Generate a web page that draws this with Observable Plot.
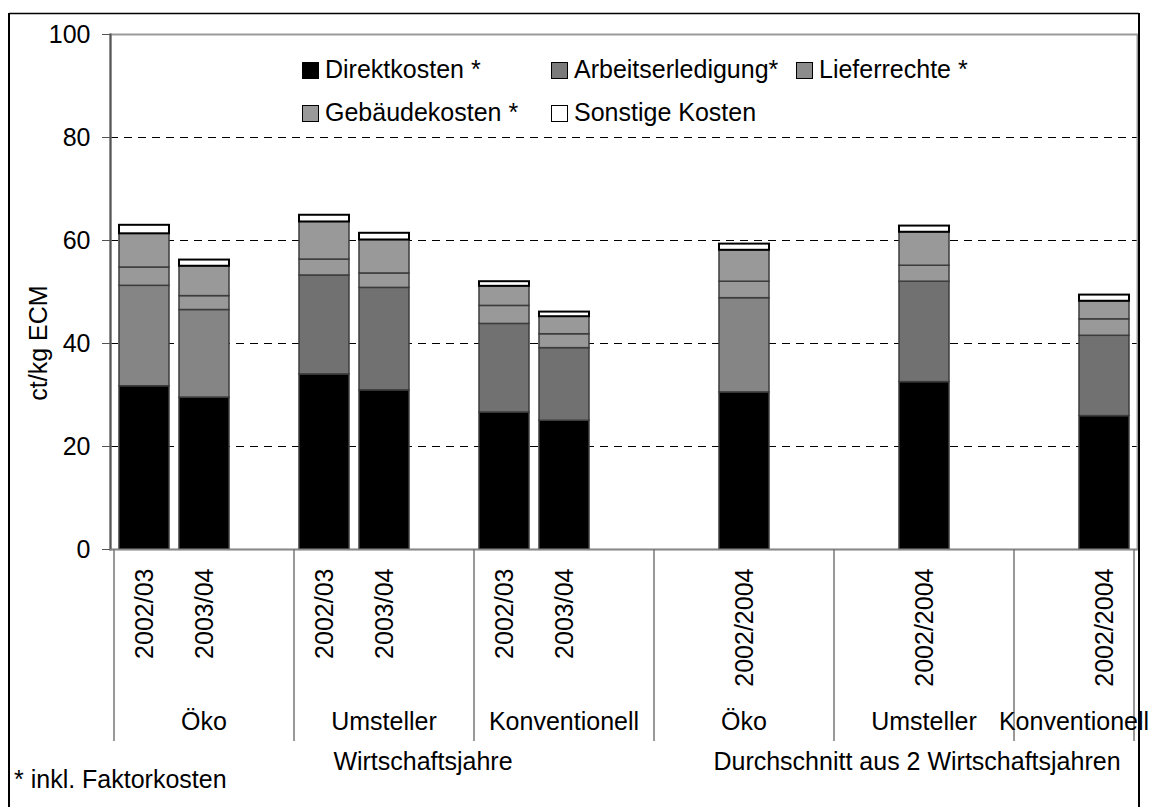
<!DOCTYPE html>
<html><head><meta charset="utf-8">
<script src="https://cdn.jsdelivr.net/npm/d3@7"></script>
<script src="https://cdn.jsdelivr.net/npm/@observablehq/plot@0.6"></script>
<style>
body{margin:0;background:#fff;}
#wrap{position:relative;width:1151px;height:807px;overflow:hidden;}
</style></head><body><div id="wrap"></div>
<script>
// ---- data ----
const series = ["Direktkosten *","Arbeitserledigung*","Lieferrechte *","Gebäudekosten *","Sonstige Kosten"];
const groups = ["Öko","Umsteller","Konventionell","Öko","Umsteller","Konventionell"];
const slotLabels = [
  ["2002/03","2003/04",""],
  ["2002/03","2003/04",""],
  ["2002/03","2003/04",""],
  ["","2002/2004",""],
  ["","2002/2004",""],
  ["","2002/2004"]
];
const barGroup = [0,0,1,1,2,2,3,4,5];
const barSlot  = [0,1,0,1,0,1,1,1,1];
const direkt   = [31.7,29.5,34.0,30.9,26.6,25.0,30.5,32.5,25.9];
const arbeit   = [19.5,17.0,19.2,19.9,17.2,14.1,18.3,19.5,15.6];
const liefer   = [3.55,2.7,3.1,2.8,3.5,2.7,3.2,3.1,3.2];
const gebaeude = [6.55,5.8,7.3,6.5,3.8,3.4,6.1,6.5,3.5];
const sonstige = [1.65,1.2,1.3,1.3,0.9,0.9,1.2,1.2,1.2];
const yTicks = [0,20,40,60,80,100];
const gridTicks = [20,40,60,80];
const superGroups = ["Wirtschaftsjahre","Durchschnitt aus 2 Wirtschaftsjahren"];
const footnote = "* inkl. Faktorkosten";
const yLabel = "ct/kg ECM";

// ---- build ----
const FONT = "'Liberation Sans', Arial, Helvetica, sans-serif";
const seriesValues = [direkt, arbeit, liefer, gebaeude, sonstige];
const seriesFill = ["#000000","#717171","#999999","#999999","#ffffff"];
const legendFill = ["#000000","#7a7a7a","#8c8c8c","#999999","#ffffff"];
const slotIds = [];
const slotText = new Map();
slotLabels.forEach((arr,g)=>arr.forEach((lab,s)=>{const id=g+"-"+s; slotIds.push(id); slotText.set(id,lab);}));
const rows = [];
direkt.forEach((_,i)=>{
  series.forEach((name,k)=>{
    rows.push({slot: barGroup[i]+"-"+barSlot[i], group: groups[barGroup[i]], series: name, k, value: seriesValues[k][i]});
  });
});
const fillOf = d => (d.k===1 && d.group==="Öko") ? "#858585" : seriesFill[d.k];

const W = 1151, H = 807;
const chart = Plot.plot({
  width: W, height: H,
  marginLeft: 110, marginRight: 14, marginTop: 34, marginBottom: 258,
  style: {fontFamily: FONT, background: "#fff"},
  x: {type: "band", domain: slotIds, paddingInner: 0.173, paddingOuter: 0.0865},
  y: {domain: [0,100]},
  color: {type: "identity"},
  marks: [
    Plot.ruleY(gridTicks, {stroke: "#000", strokeWidth: 1, strokeDasharray: "8,6"}),
    Plot.frame({stroke: "#9a9a9a", strokeWidth: 2}),
    Plot.barY(rows, Plot.stackY({
      x: "slot", y: "value", z: "series",
      fill: fillOf,
      stroke: d => d.k===4 ? "#000" : "#3c3c3c",
      strokeWidth: d => d.k===4 ? 2 : 1.5
    })),
    Plot.frame({anchor: "left", stroke: "#555", strokeWidth: 2}),
    Plot.frame({anchor: "bottom", stroke: "#8a8a8a", strokeWidth: 1.5}),
    Plot.axisY({ticks: yTicks, tickSize: 8, tickPadding: 12, fontSize: 25, label: null, stroke: "#555"}),
    Plot.axisX({tickSize: 0, tickRotate: -90, tickPadding: 19, textAnchor: "end", lineAnchor: "middle",
      fontSize: 25, label: null, tickFormat: id => slotText.get(id)})
  ]
});
document.getElementById("wrap").appendChild(chart);

// ---- annotations using the plot's scales ----
const svg = d3.select(chart);
const xs = chart.scale("x");
const ys = chart.scale("y");
const half = (xs.step - xs.bandwidth) / 2;
const y0 = ys.apply(0);
const slotLeft = id => xs.apply(id) - half;
const slotRight = id => xs.apply(id) + xs.bandwidth + half;
const g = svg.append("g").attr("font-family", FONT).attr("font-size", 25).attr("fill", "#000")
  .attr("text-anchor", "start");

// group separators
const bounds = [];
slotLabels.forEach((arr,gi)=>{ bounds.push(slotLeft(gi+"-0")); });
bounds.push(slotRight((slotLabels.length-1)+"-"+(slotLabels[slotLabels.length-1].length-1)));
bounds.forEach(bx => g.append("line").attr("x1",bx).attr("x2",bx).attr("y1",y0).attr("y2",y0+192)
  .attr("stroke","#777").attr("stroke-width",1.5));
// group labels
slotLabels.forEach((arr,gi)=>{
  const cx = (slotLeft(gi+"-0") + slotRight(gi+"-"+(arr.length-1)))/2;
  g.append("text").attr("x",cx).attr("y",y0+181).attr("text-anchor","middle").text(groups[gi]);
});
// super group labels
g.append("text").attr("x", 423).attr("y", y0+221).attr("text-anchor","middle").text(superGroups[0]);
g.append("text").attr("x", 917).attr("y", y0+221).attr("text-anchor","middle").text(superGroups[1]);
// footnote
g.append("text").attr("x", 14).attr("y", 788).attr("text-anchor","start").text(footnote);
// y label
g.append("text").attr("transform", `translate(47,343) rotate(-90)`)
  .attr("text-anchor","middle").text(yLabel);
// legend
const legendItems = [
  {k:0, x:302, row:0},{k:1, x:551, row:0},{k:2, x:796, row:0},
  {k:3, x:302, row:1},{k:4, x:551, row:1}
];
legendItems.forEach(it=>{
  const ty = it.row===0 ? 78 : 121;
  g.append("rect").attr("x",it.x+0.5).attr("y",ty-15.5).attr("width",16).attr("height",16)
    .attr("fill",legendFill[it.k]).attr("stroke","#000").attr("stroke-width",1);
  g.append("text").attr("x",it.x+23).attr("y",ty).attr("text-anchor","start").text(series[it.k]);
});
// outer border
g.append("line").attr("x1",9).attr("x2",9).attr("y1",13).attr("y2",H)
  .attr("stroke","#000").attr("stroke-width",2);
g.append("line").attr("x1",9).attr("x2",1139).attr("y1",13.5).attr("y2",13.5)
  .attr("stroke","#000").attr("stroke-width",1.5);
g.append("line").attr("x1",1139).attr("x2",1139).attr("y1",13).attr("y2",H)
  .attr("stroke","#000").attr("stroke-width",2);
</script>
</body></html>
